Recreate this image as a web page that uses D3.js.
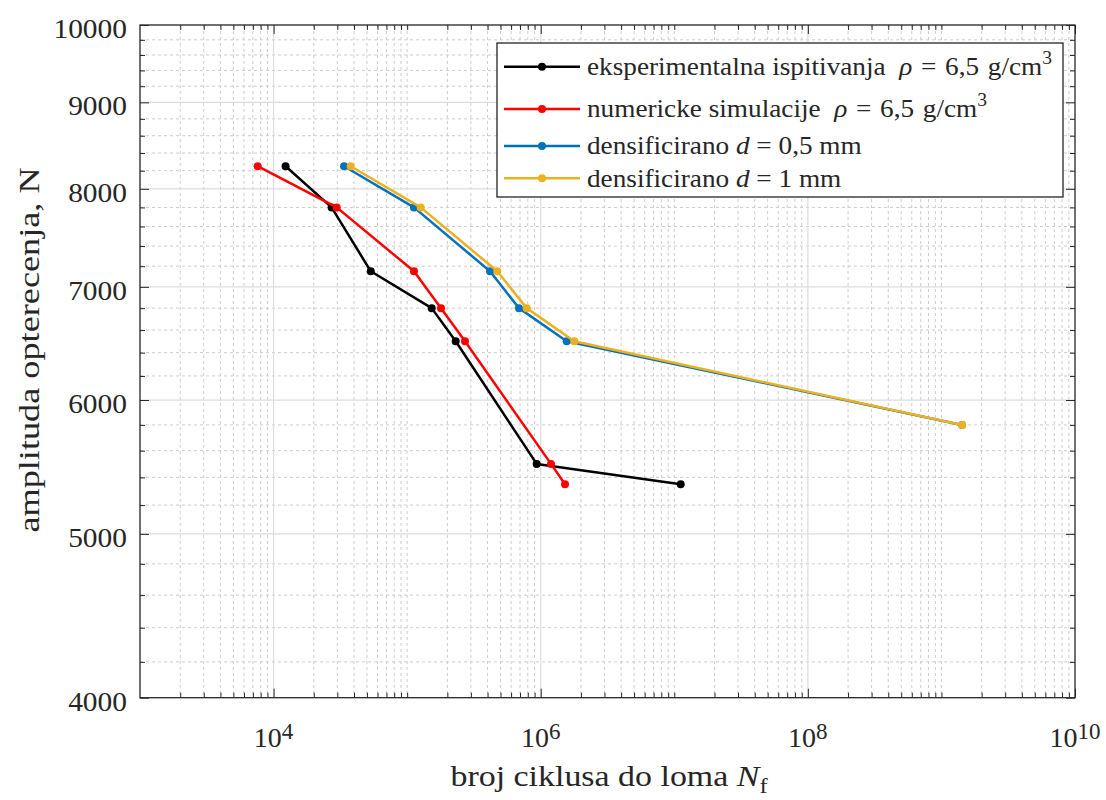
<!DOCTYPE html>
<html><head><meta charset="utf-8">
<script src="https://cdn.jsdelivr.net/npm/d3@7"></script>
<style>
body{margin:0;background:#fff;}
</style></head>
<body>
<svg id="chart" width="1106" height="800" style="font-family:'Liberation Serif','Times New Roman',Times,serif"></svg>
<script>
// ---- data ----
const seriesNames = ["eksperimentalna ispitivanja", "numericke simulacije", "densificirano d = 0,5 mm", "densificirano d = 1 mm"];
const expCycles  = [12300, 27200, 53400, 152700, 231000, 933000, 11170000];
const expLoad    = [8250, 7800, 7150, 6800, 6500, 5500, 5350];
const numCycles  = [7600, 29700, 112500, 179300, 271200, 1194000, 1520000];
const numLoad    = [8250, 7800, 7150, 6800, 6500, 5500, 5350];
const d05Cycles  = [33700, 112500, 417300, 687800, 1565000, 1426000000];
const d05Load    = [8250, 7800, 7150, 6800, 6500, 5800];
const d1Cycles   = [37800, 126300, 473200, 785600, 1784000, 1430000000];
const d1Load     = [8250, 7800, 7150, 6800, 6500, 5800];
const yTickValues = [4000, 5000, 6000, 7000, 8000, 9000, 10000];
const xTickLabelExps = [4, 6, 8, 10];
const colors = ["#000000", "#FF0000", "#0072BD", "#EDB120"];

const series = [
  {cycles: expCycles, load: expLoad},
  {cycles: numCycles, load: numLoad},
  {cycles: d05Cycles, load: d05Load},
  {cycles: d1Cycles, load: d1Load}
];

const FONT = "'Liberation Serif', 'Times New Roman', Times, serif";
const svg = d3.select("#chart");
const L = 140, R = 1075, T = 25, B = 697.7;
const x = d3.scaleLog().domain([1e3, 1e10]).range([L, R]);
const y = d3.scaleLog().domain([4000, 10000]).range([B, T]);

const xMinor = [], xMajor = [];
for (let e = 3; e < 10; e++) {
  for (let m = 1; m < 10; m++) {
    const v = m * Math.pow(10, e);
    if (m === 1 && e % 2 === 0) xMajor.push(v);
    else if (!(m === 1 && e === 3)) xMinor.push(v);
  }
}
const yMinor = [];
for (let v = 4200; v < 10000; v += 200) if (v % 1000 !== 0) yMinor.push(v);

const g = svg.append("g");
g.selectAll(".xmg").data(xMinor).join("line")
  .attr("x1", d => x(d)).attr("x2", d => x(d)).attr("y1", T).attr("y2", B)
  .attr("stroke", "#cccccc").attr("stroke-width", 1).attr("stroke-dasharray", "3,3");
g.selectAll(".ymg").data(yMinor).join("line")
  .attr("y1", d => y(d)).attr("y2", d => y(d)).attr("x1", L).attr("x2", R)
  .attr("stroke", "#cccccc").attr("stroke-width", 1).attr("stroke-dasharray", "3,3");
g.selectAll(".xMg").data(xMajor.filter(v => v > 1e3)).join("line")
  .attr("x1", d => x(d)).attr("x2", d => x(d)).attr("y1", T).attr("y2", B)
  .attr("stroke", "#dcdcdc").attr("stroke-width", 1.2);
g.selectAll(".yMg").data(yTickValues.slice(1, -1)).join("line")
  .attr("y1", d => y(d)).attr("y2", d => y(d)).attr("x1", L).attr("x2", R)
  .attr("stroke", "#dcdcdc").attr("stroke-width", 1.2);

const axisColor = "#262626";
function styleAxis(sel) {
  sel.select(".domain").remove();
  sel.selectAll("line").attr("stroke", axisColor).attr("stroke-width", 1);
  sel.selectAll("text").remove();
}
const majorLen = 9, minorLen = 5;
svg.append("g").attr("transform", `translate(0,${B})`)
  .call(d3.axisTop(x).tickValues(xMajor.concat([1e10])).tickSize(majorLen)).call(styleAxis);
svg.append("g").attr("transform", `translate(0,${B})`)
  .call(d3.axisTop(x).tickValues(xMinor).tickSize(minorLen)).call(styleAxis);
svg.append("g").attr("transform", `translate(0,${T})`)
  .call(d3.axisBottom(x).tickValues(xMajor.concat([1e10])).tickSize(majorLen)).call(styleAxis);
svg.append("g").attr("transform", `translate(0,${T})`)
  .call(d3.axisBottom(x).tickValues(xMinor).tickSize(minorLen)).call(styleAxis);
svg.append("g").attr("transform", `translate(${L},0)`)
  .call(d3.axisRight(y).tickValues(yTickValues).tickSize(majorLen)).call(styleAxis);
svg.append("g").attr("transform", `translate(${L},0)`)
  .call(d3.axisRight(y).tickValues(yMinor).tickSize(minorLen)).call(styleAxis);
svg.append("g").attr("transform", `translate(${R},0)`)
  .call(d3.axisLeft(y).tickValues(yTickValues).tickSize(majorLen)).call(styleAxis);
svg.append("g").attr("transform", `translate(${R},0)`)
  .call(d3.axisLeft(y).tickValues(yMinor).tickSize(minorLen)).call(styleAxis);

svg.append("rect").attr("x", L).attr("y", T).attr("width", R - L).attr("height", B - T)
  .attr("fill", "none").attr("stroke", axisColor).attr("stroke-width", 1.3);

// tick labels
svg.selectAll(".ylab").data(yTickValues).join("text")
  .attr("transform", d => `translate(${L - 13},${y(d) + 3.5}) scale(1.09,1)`)
  .attr("dy", "0.35em")
  .attr("text-anchor", "end").attr("fill", "#262626")
  .style("font-family", FONT).style("font-size", "27px").text(d => d);
const xl = svg.selectAll(".xlab").data(xTickLabelExps).join("text")
  .attr("x", d => x(Math.pow(10, d))).attr("y", 747).attr("fill", "#262626")
  .attr("text-anchor", "middle").style("font-family", FONT).style("font-size", "28px");
xl.append("tspan").text("10");
xl.append("tspan").attr("dy", -8).style("font-size", "23px").text(d => d);

// axis titles
const xt = svg.append("text").attr("transform", "translate(609,786) scale(1.17,1)")
  .attr("text-anchor", "middle")
  .attr("fill", "#262626").style("font-family", FONT).style("font-size", "29px");
xt.append("tspan").text("broj ciklusa do loma ");
xt.append("tspan").style("font-style", "italic").text("N");
xt.append("tspan").attr("dy", 7).style("font-size", "21px").text("f");
svg.append("text").attr("transform", `translate(39,350) rotate(-90) scale(1.25,1)`)
  .attr("fill", "#262626").attr("text-anchor", "middle")
  .style("font-family", FONT).style("font-size", "29px").text("amplituda opterecenja, N");

// lines + markers
const line = d3.line().x(d => x(d[0])).y(d => y(d[1]));
series.forEach((s, i) => {
  const pts = s.cycles.map((c, j) => [c, s.load[j]]);
  svg.append("path").datum(pts).attr("d", line).attr("fill", "none")
    .attr("stroke", colors[i]).attr("stroke-width", 2.5).attr("stroke-linejoin", "round");
  svg.selectAll(null).data(pts).join("circle")
    .attr("cx", d => x(d[0])).attr("cy", d => y(d[1])).attr("r", 4).attr("fill", colors[i]);
});

// legend
const lg = svg.append("g");
lg.append("rect").attr("x", 497).attr("y", 43).attr("width", 566).attr("height", 154)
  .attr("fill", "#fff").attr("stroke", axisColor).attr("stroke-width", 1.3);
const rowY = [66.7, 109, 146, 178.3];
rowY.forEach((ry, i) => {
  lg.append("line").attr("x1", 504).attr("x2", 580).attr("y1", ry).attr("y2", ry)
    .attr("stroke", colors[i]).attr("stroke-width", 2.5);
  lg.append("circle").attr("cx", 542).attr("cy", ry).attr("r", 4).attr("fill", colors[i]);
  const t = lg.append("text").attr("transform", `translate(587,${ry}) scale(1.09,1)`).attr("dy", "0.33em")
    .attr("fill", "#262626").style("font-family", FONT).style("font-size", "25px");
  if (i < 2) {
    t.append("tspan").text(seriesNames[i] + "\u00a0\u00a0");
    t.append("tspan").style("font-style", "italic").text("\u03c1");
    t.append("tspan").attr("dx", 8).text("=");
    t.append("tspan").attr("dx", 8).text("6,5");
    t.append("tspan").attr("dx", 8).text("g/cm");
    t.append("tspan").attr("dy", -11).style("font-size", "18px").text("3");
  } else {
    const parts = seriesNames[i].split(" d ");
    t.append("tspan").text(parts[0] + " ");
    t.append("tspan").style("font-style", "italic").text("d");
    t.append("tspan").text(" " + parts[1]);
  }
});
</script>
</body></html>
